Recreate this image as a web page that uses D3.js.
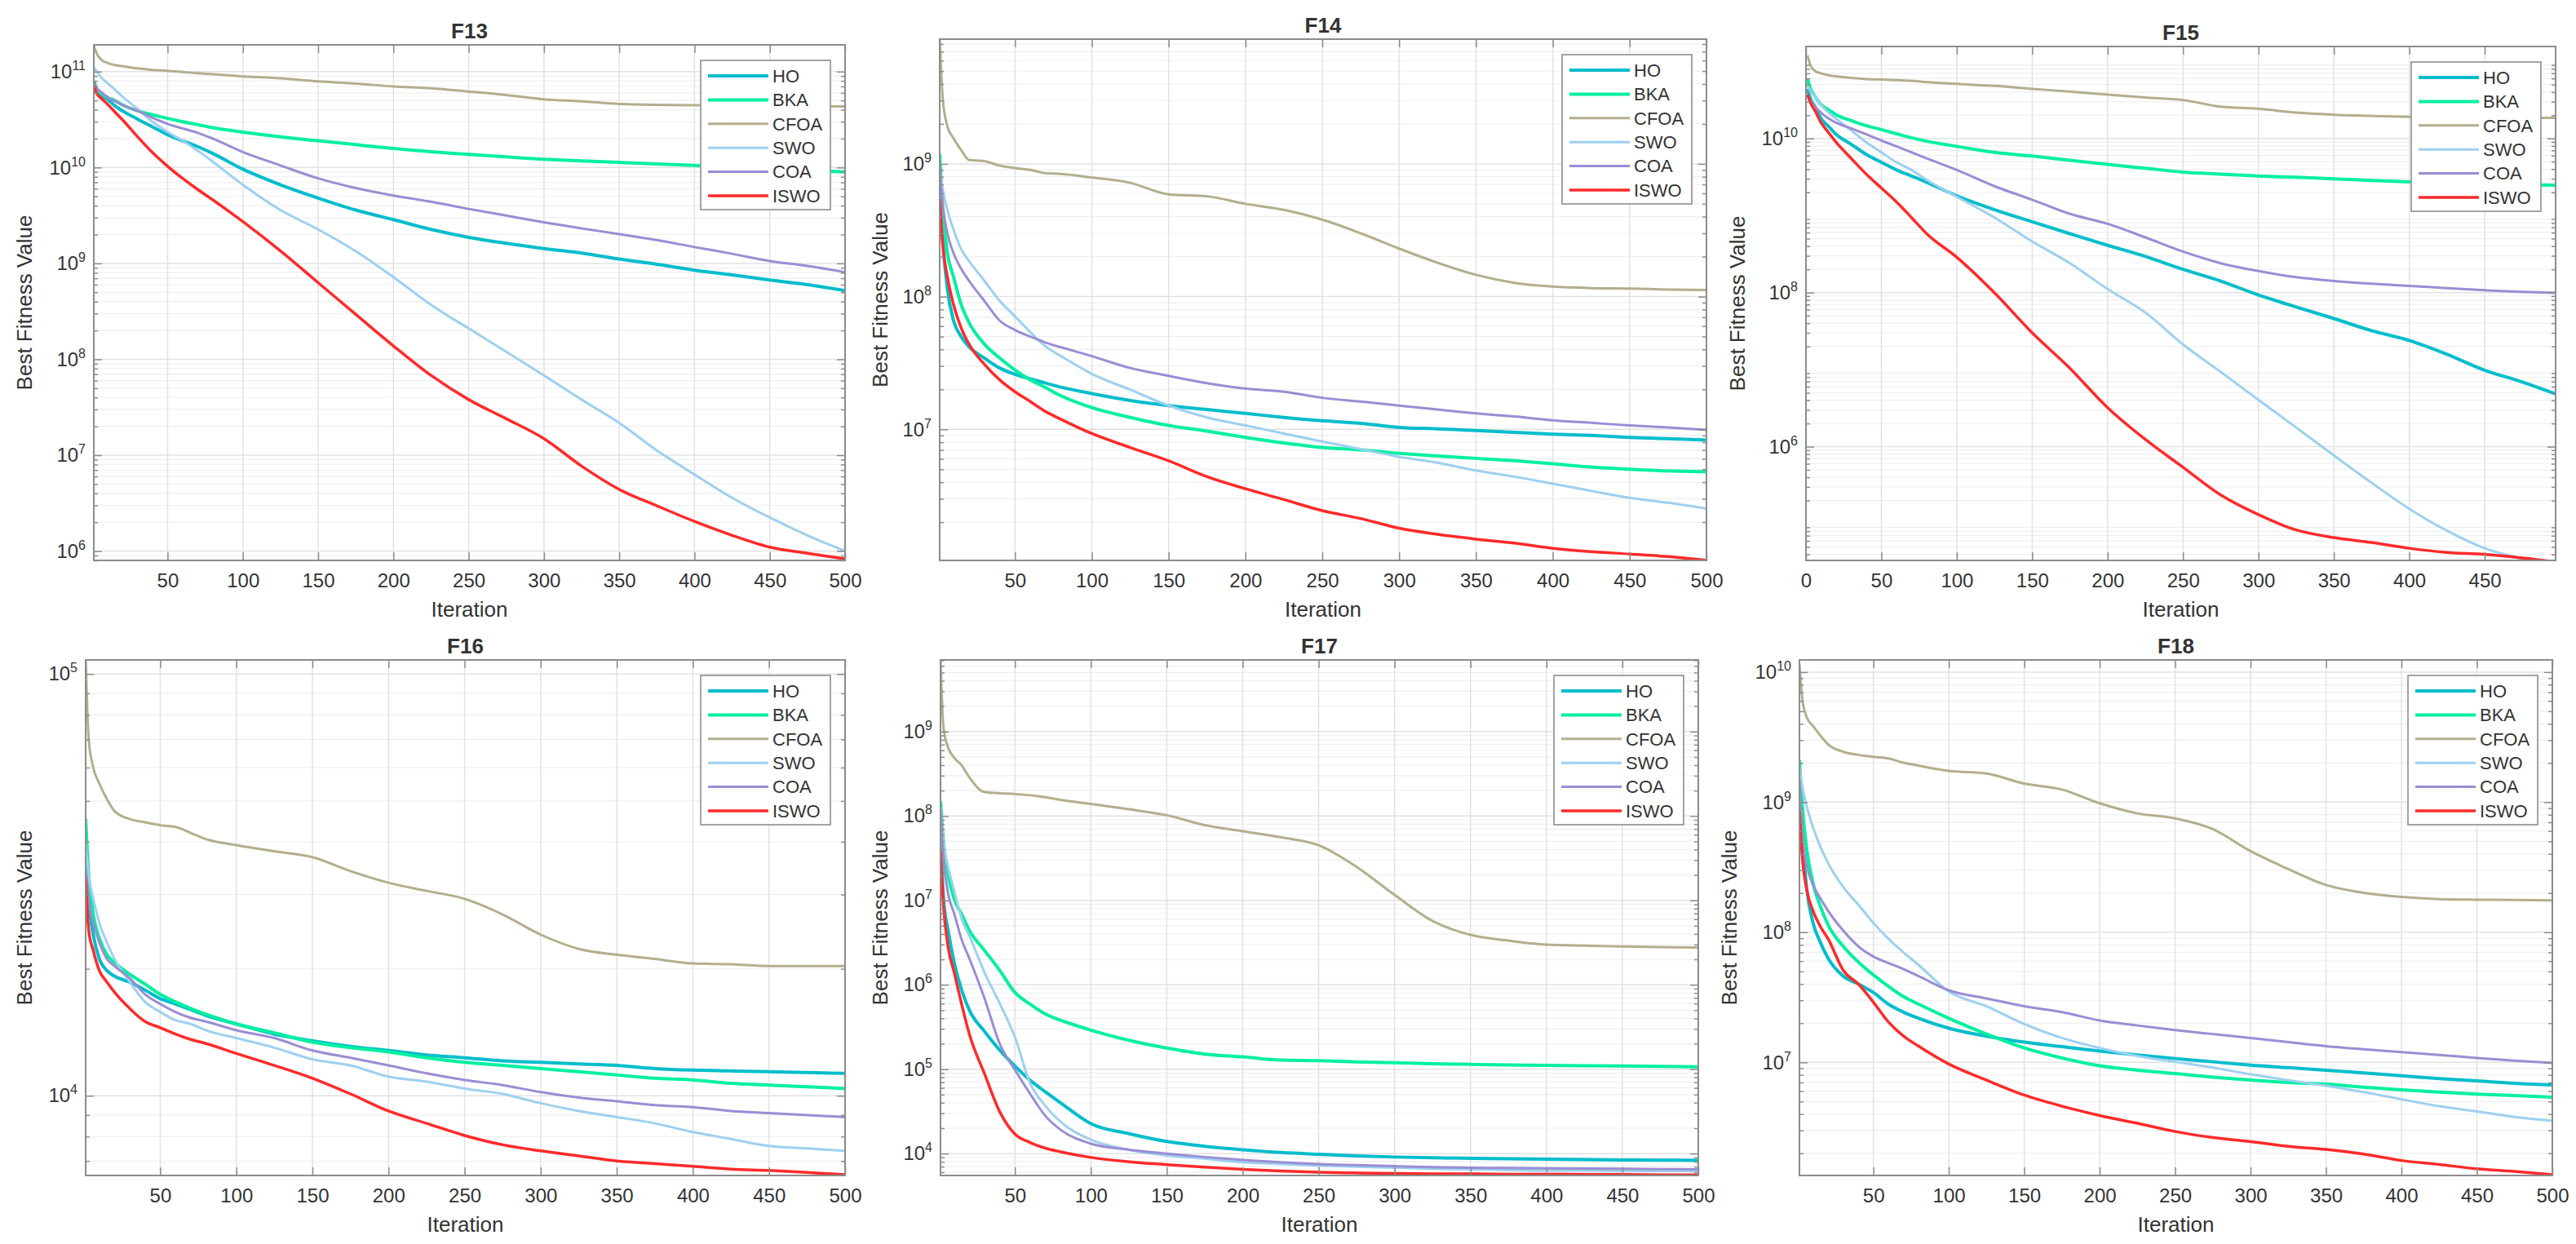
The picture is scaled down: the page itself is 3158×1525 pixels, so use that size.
<!DOCTYPE html>
<html>
<head>
<meta charset="utf-8">
<script src="https://cdn.jsdelivr.net/npm/d3@7"></script>
<style>
  body { margin: 0; background: #fff; }
  text { font-family: "Liberation Sans", Arial, sans-serif; fill: #333; }
</style>
</head>
<body>
<svg id="chart"></svg>
<script>
// sampled iterations shared by every curve
const iters = [1, 3, 6, 10, 15, 20, 30, 40, 50, 60, 70, 80, 100, 125, 150, 175, 200, 225, 250, 275, 300, 325, 350, 375, 400, 425, 450, 475, 500];

const algos = ['HO', 'BKA', 'CFOA', 'SWO', 'COA', 'ISWO'];
const colors = ['#00bdcc', '#00f0a0', '#b3ae8c', '#9dd0f0', '#9a8dd4', '#ff2a2a'];
const widths = [4, 4, 3, 3, 3, 3.5];

const xTicks500 = [50, 100, 150, 200, 250, 300, 350, 400, 450, 500];
const xTicks450 = [0, 50, 100, 150, 200, 250, 300, 350, 400, 450];

// F13
const f13HO = [8.0e10, 6.5e10, 5.7e10, 5.15e10, 4.4e10, 3.9e10, 3.2e10, 2.65e10, 2.2e10, 1.9e10, 1.65e10, 1.4e10, 9.6e9, 6.6e9, 4.8e9, 3.6e9, 2.86e9, 2.26e9, 1.87e9, 1.62e9, 1.43e9, 1.28e9, 1.11e9, 9.8e8, 8.5e8, 7.6e8, 6.7e8, 6.0e8, 5.2e8];
const f13BKA = [7.5e10, 6.5e10, 5.9e10, 5.4e10, 5.0e10, 4.5e10, 3.9e10, 3.55e10, 3.25e10, 3.0e10, 2.8e10, 2.6e10, 2.34e10, 2.09e10, 1.9e10, 1.73e10, 1.58e10, 1.46e10, 1.37e10, 1.29e10, 1.22e10, 1.17e10, 1.13e10, 1.09e10, 1.05e10, 1.01e10, 9.7e9, 9.3e9, 9.0e9];
const f13CFOA = [1.85e11, 1.53e11, 1.33e11, 1.23e11, 1.17e11, 1.14e11, 1.08e11, 1.04e11, 1.02e11, 9.9e10, 9.6e10, 9.4e10, 8.9e10, 8.5e10, 7.9e10, 7.5e10, 7.0e10, 6.7e10, 6.2e10, 5.7e10, 5.15e10, 4.9e10, 4.6e10, 4.5e10, 4.47e10, 4.43e10, 4.38e10, 4.36e10, 4.34e10];
const f13SWO = [1.1e11, 1.0e11, 8.7e10, 7.6e10, 6.5e10, 5.5e10, 4.1e10, 3.0e10, 2.35e10, 1.9e10, 1.5e10, 1.15e10, 6.6e9, 3.6e9, 2.26e9, 1.34e9, 7.2e8, 3.7e8, 2.1e8, 1.2e8, 6.8e7, 3.8e7, 2.17e7, 1.12e7, 6.3e6, 3.6e6, 2.24e6, 1.46e6, 1.0e6];
const f13COA = [7.5e10, 6.7e10, 6.1e10, 5.4e10, 4.9e10, 4.5e10, 3.9e10, 3.3e10, 2.85e10, 2.55e10, 2.3e10, 2.0e10, 1.45e10, 1.05e10, 7.7e9, 6.1e9, 5.1e9, 4.4e9, 3.7e9, 3.15e9, 2.68e9, 2.32e9, 2.02e9, 1.75e9, 1.48e9, 1.26e9, 1.06e9, 9.4e8, 8.1e8];
const f13ISWO = [7.2e10, 5.9e10, 5.25e10, 4.6e10, 3.8e10, 3.15e10, 2.1e10, 1.43e10, 1.03e10, 7.7e9, 5.9e9, 4.6e9, 2.73e9, 1.35e9, 6.3e8, 2.94e8, 1.38e8, 6.8e7, 3.8e7, 2.4e7, 1.49e7, 7.7e6, 4.4e6, 2.97e6, 2.04e6, 1.46e6, 1.1e6, 9.5e5, 8.3e5];
const f13YTicks = [1e6, 1e7, 1e8, 1e9, 1e10, 1e11];

// F14
const f14HO = [1.0e9, 2.8e8, 1.15e8, 6.6e7, 5.0e7, 4.2e7, 3.45e7, 2.9e7, 2.6e7, 2.4e7, 2.23e7, 2.08e7, 1.86e7, 1.65e7, 1.51e7, 1.41e7, 1.32e7, 1.23e7, 1.16e7, 1.11e7, 1.035e7, 1.01e7, 9.8e6, 9.5e6, 9.2e6, 9.0e6, 8.7e6, 8.5e6, 8.3e6];
const f14BKA = [1.19e9, 4.5e8, 2.13e8, 1.41e8, 8.7e7, 6.4e7, 4.4e7, 3.45e7, 2.8e7, 2.36e7, 2.06e7, 1.79e7, 1.46e7, 1.23e7, 1.07e7, 9.7e6, 8.7e6, 7.9e6, 7.3e6, 7.0e6, 6.6e6, 6.3e6, 6.05e6, 5.8e6, 5.5e6, 5.2e6, 5.0e6, 4.86e6, 4.8e6];
const f14CFOA = [9.0e9, 3.1e9, 1.92e9, 1.56e9, 1.27e9, 1.07e9, 1.05e9, 9.7e8, 9.3e8, 9.0e8, 8.5e8, 8.4e8, 7.9e8, 7.2e8, 5.9e8, 5.7e8, 5.0e8, 4.5e8, 3.8e8, 3.0e8, 2.3e8, 1.8e8, 1.46e8, 1.27e8, 1.19e8, 1.16e8, 1.15e8, 1.13e8, 1.12e8];
const f14SWO = [9.0e8, 6.4e8, 4.5e8, 3.2e8, 2.28e8, 1.86e8, 1.32e8, 9.3e7, 7.1e7, 5.4e7, 4.2e7, 3.56e7, 2.62e7, 1.99e7, 1.51e7, 1.23e7, 1.07e7, 9.3e6, 8.1e6, 7.1e6, 6.2e6, 5.6e6, 4.9e6, 4.4e6, 3.9e6, 3.44e6, 3.05e6, 2.8e6, 2.53e6];
const f14COA = [9.7e8, 4.9e8, 3.0e8, 2.13e8, 1.62e8, 1.32e8, 9.3e7, 6.6e7, 5.6e7, 5.0e7, 4.5e7, 4.15e7, 3.56e7, 2.9e7, 2.53e7, 2.23e7, 2.03e7, 1.92e7, 1.73e7, 1.62e7, 1.51e7, 1.41e7, 1.32e7, 1.25e7, 1.17e7, 1.12e7, 1.07e7, 1.035e7, 9.9e6];
const f14ISWO = [5.4e8, 2.44e8, 1.41e8, 8.7e7, 5.8e7, 4.4e7, 3.1e7, 2.36e7, 1.92e7, 1.62e7, 1.36e7, 1.19e7, 9.3e6, 7.3e6, 5.8e6, 4.4e6, 3.57e6, 2.96e6, 2.44e6, 2.13e6, 1.8e6, 1.62e6, 1.49e6, 1.39e6, 1.27e6, 1.2e6, 1.15e6, 1.1e6, 1.03e6];
const f14YTicks = [1e7, 1e8, 1e9];

// F15
const f15HO = [4.4e10, 3.27e10, 2.58e10, 1.81e10, 1.43e10, 1.13e10, 8.4e9, 6.2e9, 4.9e9, 3.9e9, 3.25e9, 2.7e9, 1.8e9, 1.19e9, 8.3e8, 5.8e8, 4.1e8, 2.94e8, 2.0e8, 1.41e8, 9.3e7, 6.5e7, 4.6e7, 3.2e7, 2.39e7, 1.58e7, 9.8e6, 6.9e6, 4.6e6];
const f15BKA = [5.9e10, 4.4e10, 3.5e10, 2.74e10, 2.35e10, 2.03e10, 1.7e10, 1.46e10, 1.3e10, 1.15e10, 1.02e10, 9.2e9, 7.9e9, 6.6e9, 5.9e9, 5.2e9, 4.6e9, 4.1e9, 3.66e9, 3.44e9, 3.25e9, 3.13e9, 2.99e9, 2.85e9, 2.72e9, 2.62e9, 2.56e9, 2.5e9, 2.47e9];
const f15CFOA = [1.2e11, 8.9e10, 7.5e10, 7.0e10, 6.6e10, 6.4e10, 6.1e10, 5.9e10, 5.8e10, 5.7e10, 5.6e10, 5.4e10, 5.1e10, 4.8e10, 4.4e10, 4.05e10, 3.7e10, 3.4e10, 3.15e10, 2.58e10, 2.43e10, 2.16e10, 2.03e10, 1.96e10, 1.9e10, 1.87e10, 1.85e10, 1.85e10, 1.85e10];
const f15SWO = [4.9e10, 4.14e10, 3.47e10, 2.7e10, 2.16e10, 1.8e10, 1.27e10, 8.9e9, 6.6e9, 4.9e9, 3.9e9, 2.9e9, 1.75e9, 9.4e8, 4.6e8, 2.4e8, 1.11e8, 5.5e7, 2.12e7, 9.3e6, 4.05e6, 1.77e6, 7.7e5, 3.4e5, 1.56e5, 8.1e4, 4.8e4, 3.47e4, 2.5e4];
const f15COA = [3.7e10, 3.08e10, 2.58e10, 2.16e10, 1.81e10, 1.6e10, 1.35e10, 1.13e10, 9.4e9, 7.9e9, 6.6e9, 5.5e9, 3.9e9, 2.4e9, 1.6e9, 1.05e9, 7.8e8, 5.2e8, 3.4e8, 2.4e8, 1.9e8, 1.58e8, 1.41e8, 1.3e8, 1.22e8, 1.14e8, 1.07e8, 1.02e8, 9.9e7];
const f15ISWO = [3.7e10, 2.9e10, 2.29e10, 1.6e10, 1.19e10, 8.9e9, 5.5e9, 3.44e9, 2.27e9, 1.5e9, 9.4e8, 5.8e8, 2.87e8, 9.9e7, 3.0e7, 1.04e7, 3.2e6, 1.24e6, 5.4e5, 2.36e5, 1.31e5, 8.3e4, 6.6e4, 5.7e4, 4.8e4, 4.24e4, 4.0e4, 3.6e4, 3.15e4];
const f15YTicks = [1e6, 1e8, 1e10];

// F16
const f16HO = [3.97e4, 2.93e4, 2.41e4, 2.11e4, 1.98e4, 1.92e4, 1.86e4, 1.78e4, 1.7e4, 1.65e4, 1.6e4, 1.55e4, 1.48e4, 1.4e4, 1.35e4, 1.31e4, 1.28e4, 1.25e4, 1.23e4, 1.21e4, 1.2e4, 1.19e4, 1.18e4, 1.16e4, 1.15e4, 1.145e4, 1.14e4, 1.135e4, 1.13e4];
const f16BKA = [4.53e4, 3.34e4, 2.69e4, 2.36e4, 2.16e4, 2.07e4, 1.94e4, 1.84e4, 1.74e4, 1.67e4, 1.61e4, 1.56e4, 1.48e4, 1.41e4, 1.34e4, 1.3e4, 1.27e4, 1.23e4, 1.2e4, 1.18e4, 1.16e4, 1.14e4, 1.12e4, 1.1e4, 1.09e4, 1.07e4, 1.06e4, 1.05e4, 1.04e4];
const f16CFOA = [1.1e5, 7.0e4, 6.0e4, 5.5e4, 5.05e4, 4.73e4, 4.53e4, 4.45e4, 4.38e4, 4.34e4, 4.2e4, 4.06e4, 3.93e4, 3.8e4, 3.68e4, 3.41e4, 3.2e4, 3.06e4, 2.93e4, 2.69e4, 2.41e4, 2.23e4, 2.16e4, 2.11e4, 2.06e4, 2.05e4, 2.03e4, 2.03e4, 2.03e4];
const f16SWO = [3.97e4, 3.34e4, 2.93e4, 2.57e4, 2.31e4, 2.11e4, 1.86e4, 1.67e4, 1.58e4, 1.51e4, 1.48e4, 1.43e4, 1.37e4, 1.3e4, 1.22e4, 1.18e4, 1.11e4, 1.08e4, 1.04e4, 1.01e4, 9.6e3, 9.2e3, 8.9e3, 8.6e3, 8.2e3, 7.9e3, 7.6e3, 7.5e3, 7.4e3];
const f16COA = [3.48e4, 2.93e4, 2.57e4, 2.31e4, 2.11e4, 2.03e4, 1.9e4, 1.74e4, 1.65e4, 1.58e4, 1.53e4, 1.5e4, 1.43e4, 1.37e4, 1.28e4, 1.23e4, 1.18e4, 1.13e4, 1.09e4, 1.06e4, 1.02e4, 9.9e3, 9.7e3, 9.5e3, 9.4e3, 9.2e3, 9.1e3, 9.0e3, 8.9e3];
const f16ISWO = [3.27e4, 2.47e4, 2.21e4, 1.98e4, 1.86e4, 1.76e4, 1.61e4, 1.5e4, 1.45e4, 1.4e4, 1.36e4, 1.33e4, 1.26e4, 1.18e4, 1.1e4, 1.01e4, 9.2e3, 8.6e3, 8.05e3, 7.65e3, 7.4e3, 7.2e3, 7.0e3, 6.9e3, 6.8e3, 6.7e3, 6.65e3, 6.58e3, 6.5e3];
const f16YTicks = [1e4, 1e5];

// F17
const f17HO = [5.9e7, 1.04e7, 4.4e6, 1.84e6, 8.6e5, 5.0e5, 2.8e5, 1.68e5, 1.09e5, 7.4e4, 5.4e4, 4.0e4, 2.26e4, 1.72e4, 1.39e4, 1.22e4, 1.11e4, 1.03e4, 9.8e3, 9.4e3, 9.1e3, 8.9e3, 8.8e3, 8.7e3, 8.6e3, 8.5e3, 8.4e3, 8.35e3, 8.3e3];
const f17BKA = [1.5e8, 4.8e7, 2.0e7, 1.04e7, 6.8e6, 4.4e6, 2.55e6, 1.48e6, 8.1e5, 5.9e5, 4.5e5, 3.8e5, 2.9e5, 2.2e5, 1.78e5, 1.51e5, 1.4e5, 1.28e5, 1.26e5, 1.22e5, 1.19e5, 1.16e5, 1.14e5, 1.12e5, 1.11e5, 1.1e5, 1.09e5, 1.08e5, 1.07e5];
const f17CFOA = [7.1e9, 1.1e9, 6.5e8, 4.9e8, 3.97e8, 2.87e8, 1.92e8, 1.86e8, 1.82e8, 1.76e8, 1.67e8, 1.55e8, 1.39e8, 1.2e8, 1.02e8, 7.8e7, 6.6e7, 5.6e7, 4.5e7, 2.49e7, 1.16e7, 5.7e6, 3.9e6, 3.34e6, 2.99e6, 2.9e6, 2.84e6, 2.8e6, 2.77e6];
const f17SWO = [1.27e8, 4.8e7, 2.49e7, 1.3e7, 6.0e6, 3.8e6, 1.4e6, 6.0e5, 2.4e5, 6.8e4, 3.68e4, 2.38e4, 1.46e4, 1.11e4, 9.5e3, 8.7e3, 7.9e3, 7.5e3, 7.2e3, 7.0e3, 6.8e3, 6.6e3, 6.5e3, 6.4e3, 6.3e3, 6.3e3, 6.2e3, 6.2e3, 6.2e3];
const f17COA = [1.14e8, 3.1e7, 1.2e7, 7.0e6, 3.4e6, 2.05e6, 6.9e5, 2.0e5, 9.8e4, 5.1e4, 2.8e4, 1.92e4, 1.31e4, 1.11e4, 1.0e4, 9.1e3, 8.4e3, 7.9e3, 7.5e3, 7.3e3, 7.1e3, 6.9e3, 6.8e3, 6.75e3, 6.7e3, 6.65e3, 6.6e3, 6.55e3, 6.5e3];
const f17ISWO = [3.85e7, 8.4e6, 2.8e6, 1.4e6, 5.8e5, 2.6e5, 8.8e4, 3.13e4, 1.7e4, 1.35e4, 1.16e4, 1.05e4, 9.0e3, 8.0e3, 7.4e3, 6.9e3, 6.5e3, 6.2e3, 6.0e3, 5.9e3, 5.8e3, 5.75e3, 5.75e3, 5.7e3, 5.7e3, 5.65e3, 5.65e3, 5.6e3, 5.6e3];
const f17YTicks = [1e4, 1e5, 1e6, 1e7, 1e8, 1e9];

// F18
const f18HO = [1.72e9, 5.2e8, 2.08e8, 1.18e8, 8.3e7, 6.3e7, 4.6e7, 4.0e7, 3.45e7, 2.8e7, 2.43e7, 2.18e7, 1.83e7, 1.59e7, 1.43e7, 1.32e7, 1.22e7, 1.14e7, 1.07e7, 1.01e7, 9.5e6, 9.1e6, 8.7e6, 8.3e6, 7.9e6, 7.5e6, 7.2e6, 6.9e6, 6.7e6];
const f18BKA = [2.1e9, 9.1e8, 4.2e8, 2.39e8, 1.57e8, 1.14e8, 7.8e7, 5.9e7, 4.7e7, 3.84e7, 3.2e7, 2.8e7, 2.18e7, 1.65e7, 1.29e7, 1.08e7, 9.4e6, 8.7e6, 8.2e6, 7.7e6, 7.3e6, 7.0e6, 6.8e6, 6.45e6, 6.15e6, 5.9e6, 5.7e6, 5.55e6, 5.4e6];
const f18CFOA = [1.15e10, 6.1e9, 4.45e9, 3.86e9, 3.24e9, 2.78e9, 2.44e9, 2.31e9, 2.23e9, 2.17e9, 2.01e9, 1.91e9, 1.74e9, 1.66e9, 1.39e9, 1.25e9, 9.8e8, 8.2e8, 7.5e8, 6.2e8, 4.2e8, 3.06e8, 2.31e8, 2.01e8, 1.87e8, 1.8e8, 1.78e8, 1.77e8, 1.76e8];
const f18SWO = [1.85e9, 1.3e9, 9.1e8, 6.4e8, 4.5e8, 3.4e8, 2.23e8, 1.63e8, 1.18e8, 8.9e7, 7.0e7, 5.6e7, 3.5e7, 2.7e7, 1.97e7, 1.54e7, 1.29e7, 1.12e7, 1.01e7, 9.1e6, 8.1e6, 7.3e6, 6.6e6, 5.9e6, 5.2e6, 4.6e6, 4.2e6, 3.8e6, 3.55e6];
const f18COA = [1.49e9, 5.6e8, 3.2e8, 2.31e8, 1.81e8, 1.46e8, 1.03e8, 7.8e7, 6.5e7, 5.8e7, 5.2e7, 4.6e7, 3.58e7, 3.1e7, 2.7e7, 2.43e7, 2.1e7, 1.92e7, 1.77e7, 1.65e7, 1.54e7, 1.43e7, 1.33e7, 1.26e7, 1.2e7, 1.14e7, 1.08e7, 1.03e7, 9.9e6];
const f18ISWO = [8.5e8, 3.66e8, 2.08e8, 1.46e8, 1.1e8, 8.9e7, 5.1e7, 4.0e7, 2.9e7, 2.04e7, 1.59e7, 1.33e7, 9.7e6, 7.3e6, 5.6e6, 4.6e6, 3.9e6, 3.4e6, 2.94e6, 2.64e6, 2.46e6, 2.26e6, 2.14e6, 1.97e6, 1.76e6, 1.64e6, 1.52e6, 1.45e6, 1.37e6];
const f18YTicks = [1e7, 1e8, 1e9, 1e10];

// panel setup: axis limits and where each panel sits on the page
const panels = [
  { title: 'F13', series: [f13HO, f13BKA, f13CFOA, f13SWO, f13COA, f13ISWO], yDomain: [8e5, 1.9e11], yTicks: f13YTicks, xDomain: [1, 500], xTicks: xTicks500, box: [115, 55, 1036, 687], ylabX: 30 },
  { title: 'F14', series: [f14HO, f14BKA, f14CFOA, f14SWO, f14COA, f14ISWO], yDomain: [1.03e6, 8.7e9], yTicks: f14YTicks, xDomain: [1, 500], xTicks: xTicks500, box: [1152, 48, 2092, 687], ylabX: 1079 },
  { title: 'F15', series: [f15HO, f15BKA, f15CFOA, f15SWO, f15COA, f15ISWO], yDomain: [3.34e4, 1.56e11], yTicks: f15YTicks, xDomain: [0, 497], xTicks: xTicks450, box: [2214, 57, 3133, 687], ylabX: 2130 },
  { title: 'F16', series: [f16HO, f16BKA, f16CFOA, f16SWO, f16COA, f16ISWO], yDomain: [6.47e3, 1.08e5], yTicks: f16YTicks, xDomain: [1, 500], xTicks: xTicks500, box: [105, 809, 1036, 1441], ylabX: 30 },
  { title: 'F17', series: [f17HO, f17BKA, f17CFOA, f17SWO, f17COA, f17ISWO], yDomain: [5.5e3, 7.06e9], yTicks: f17YTicks, xDomain: [1, 500], xTicks: xTicks500, box: [1153, 809, 2082, 1441], ylabX: 1079 },
  { title: 'F18', series: [f18HO, f18BKA, f18CFOA, f18SWO, f18COA, f18ISWO], yDomain: [1.35e6, 1.24e10], yTicks: f18YTicks, xDomain: [1, 500], xTicks: xTicks500, box: [2206, 809, 3129, 1441], ylabX: 2120 }
];

const svg = d3.select('#chart')
  .attr('width', 3158)
  .attr('height', 1525);

function minorValues(domain) {
  const out = [];
  const lo = Math.floor(Math.log10(domain[0]));
  const hi = Math.ceil(Math.log10(domain[1]));
  for (let e = lo; e <= hi; e++) {
    for (let k = 2; k <= 9; k++) {
      const v = k * Math.pow(10, e);
      if (v >= domain[0] && v <= domain[1]) out.push(v);
    }
  }
  return out;
}

function powerLabels(sel) {
  sel.each(function(d) {
    const t = d3.select(this);
    t.text(null);
    t.append('tspan').text('10');
    t.append('tspan').attr('dy', -10).attr('font-size', 16).text(Math.round(Math.log10(d)));
  });
}

panels.forEach((p, pi) => {
  const [x0, y0, x1, y1] = p.box;
  const w = x1 - x0;
  const h = y1 - y0;

  const x = d3.scaleLinear().domain(p.xDomain).range([0, w]);
  const y = d3.scaleLog().domain(p.yDomain).range([h, 0]);
  const minors = minorValues(p.yDomain);

  const g = svg.append('g').attr('transform', `translate(${x0},${y0})`);

  // grid
  g.append('g').selectAll('line').data(minors).enter().append('line')
    .attr('x1', 0).attr('x2', w)
    .attr('y1', d => y(d)).attr('y2', d => y(d))
    .attr('stroke', '#efefef').attr('stroke-width', 1.2);
  g.append('g').selectAll('line').data(p.yTicks).enter().append('line')
    .attr('x1', 0).attr('x2', w)
    .attr('y1', d => y(d)).attr('y2', d => y(d))
    .attr('stroke', '#e2e2e2').attr('stroke-width', 1.5);
  g.append('g').selectAll('line').data(p.xTicks).enter().append('line')
    .attr('x1', d => x(d)).attr('x2', d => x(d))
    .attr('y1', 0).attr('y2', h)
    .attr('stroke', '#e2e2e2').attr('stroke-width', 1.5);

  // curves
  const clipId = 'clip' + pi;
  g.append('clipPath').attr('id', clipId)
    .append('rect').attr('width', w).attr('height', h);

  const line = d3.line()
    .x((d, i) => x(iters[i]))
    .y(d => y(d))
    .curve(d3.curveMonotoneX);

  g.append('g').attr('clip-path', `url(#${clipId})`)
    .selectAll('path').data(p.series).enter().append('path')
    .attr('d', d => line(d))
    .attr('fill', 'none')
    .attr('stroke', (d, i) => colors[i])
    .attr('stroke-width', (d, i) => widths[i])
    .attr('stroke-linejoin', 'round');

  // axes with inward ticks on all four sides
  const styleAxis = a => {
    a.select('.domain').remove();
    a.selectAll('.tick line').attr('stroke', '#8c8c8c').attr('stroke-width', 1.5);
    a.selectAll('text').attr('font-size', 24).attr('fill', '#4a4a4a')
      .attr('font-family', '"Liberation Sans", Arial, sans-serif');
  };

  g.append('g').attr('transform', `translate(0,${h})`)
    .call(d3.axisBottom(x).tickValues(p.xTicks).tickSize(-10).tickPadding(16))
    .call(styleAxis);
  g.append('g')
    .call(d3.axisTop(x).tickValues(p.xTicks).tickSize(-10).tickFormat(''))
    .call(styleAxis);

  g.append('g')
    .call(d3.axisLeft(y).tickValues(p.yTicks).tickSize(-10).tickPadding(10))
    .call(styleAxis)
    .call(a => a.selectAll('text').call(powerLabels));
  g.append('g')
    .call(d3.axisLeft(y).tickValues(minors).tickSize(-5).tickFormat(''))
    .call(styleAxis);
  g.append('g').attr('transform', `translate(${w},0)`)
    .call(d3.axisRight(y).tickValues(p.yTicks).tickSize(-10).tickFormat(''))
    .call(styleAxis);
  g.append('g').attr('transform', `translate(${w},0)`)
    .call(d3.axisRight(y).tickValues(minors).tickSize(-5).tickFormat(''))
    .call(styleAxis);

  g.append('rect')
    .attr('width', w).attr('height', h)
    .attr('fill', 'none').attr('stroke', '#8c8c8c').attr('stroke-width', 2);

  // labels
  g.append('text')
    .attr('x', w / 2).attr('y', -8)
    .attr('text-anchor', 'middle')
    .attr('font-size', 26)
    .attr('font-weight', 'bold')
    .attr('fill', '#2a2a2a')
    .text(p.title);

  g.append('text')
    .attr('x', w / 2).attr('y', h + 69)
    .attr('text-anchor', 'middle')
    .attr('font-size', 26)
    .attr('fill', '#444')
    .text('Iteration');

  g.append('text')
    .attr('transform', `translate(${p.ylabX - x0},${h / 2}) rotate(-90)`)
    .attr('text-anchor', 'middle')
    .attr('dy', '0.35em')
    .attr('font-size', 26)
    .attr('fill', '#444')
    .text('Best Fitness Value');

  // legend
  const lg = g.append('g').attr('transform', `translate(${w - 177},19)`);
  lg.append('rect')
    .attr('width', 159).attr('height', 183)
    .attr('fill', '#fff').attr('stroke', '#9a9a9a').attr('stroke-width', 1.8);
  const items = lg.selectAll('g.item').data(algos).enter().append('g')
    .attr('class', 'item')
    .attr('transform', (d, i) => `translate(0,${19 + i * 29.4})`);
  items.append('line')
    .attr('x1', 9).attr('x2', 83)
    .attr('stroke', (d, i) => colors[i])
    .attr('stroke-width', (d, i) => widths[i]);
  items.append('text')
    .attr('x', 88).attr('dy', '0.35em')
    .attr('font-size', 22)
    .attr('fill', '#2a2a2a')
    .text(d => d);
});
</script>
</body>
</html>
